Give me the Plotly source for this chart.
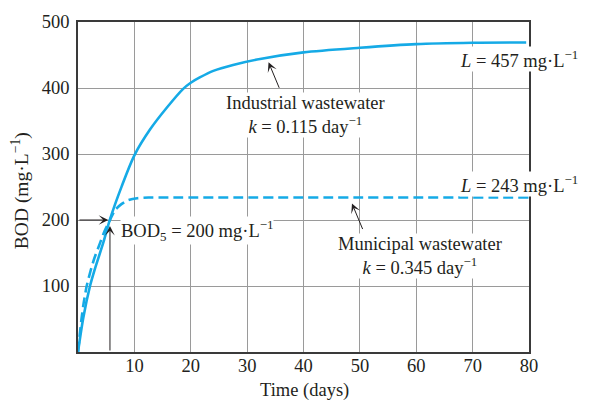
import plotly.graph_objects as go

# Industrial wastewater BOD curve (days, mg/L)
ind_days = [0, 0.94, 2.13, 3.0, 4.5, 5.67, 7.75, 10, 12.77, 15.74, 18.7, 20, 21.6, 24, 27.5, 32.3, 40, 50, 60, 70, 79.5]
ind_bod = [0, 52, 100, 126, 166, 201, 251, 298, 337, 370, 399, 408, 416, 426, 435, 444, 454, 461, 466.5, 468.5, 469]

# Municipal wastewater BOD curve (days, mg/L)
muni_days = [0, 0.3, 0.65, 1.0, 1.54, 2.2, 2.9, 3.9, 4.7, 5.67, 6.56, 7.7, 8.9, 10.5, 12.5, 16, 80]
muni_bod = [0, 25, 52, 74, 100, 122, 142, 165, 183, 200, 215, 224, 230, 233, 234, 234, 234]

# BOD5 reading
bod5_day = 5.67
bod5_value = 200

x_ticks = [10, 20, 30, 40, 50, 60, 70, 80]
y_ticks = [100, 200, 300, 400, 500]

FONT = "Liberation Serif, Times New Roman, serif"
FS = 18.5
INK = "#231f20"
CYAN = "#15aae6"

fig = go.Figure()
fig.add_trace(go.Scatter(x=ind_days, y=ind_bod, mode="lines",
                         line=dict(color=CYAN, width=2.6, shape="spline", smoothing=0.8),
                         showlegend=False, hoverinfo="skip"))
fig.add_trace(go.Scatter(x=muni_days, y=muni_bod, mode="lines",
                         line=dict(color=CYAN, width=2.6, dash="10px,5px", shape="spline", smoothing=0.6),
                         showlegend=False, hoverinfo="skip"))

ann = []
# BOD5 guide arrows
ann.append(dict(x=bod5_day - 0.3, y=bod5_value, ax=0, ay=bod5_value, xref="x", yref="y",
                axref="x", ayref="y", text="", showarrow=True, arrowhead=3,
                arrowsize=1.6, arrowwidth=1, arrowcolor=INK))
ann.append(dict(x=bod5_day, y=bod5_value - 9, ax=bod5_day, ay=0, xref="x", yref="y",
                axref="x", ayref="y", text="", showarrow=True, arrowhead=3,
                arrowsize=1.6, arrowwidth=1, arrowcolor=INK))
ann.append(dict(x=7.4, y=184, xref="x", yref="y", xanchor="left", yanchor="middle",
                text="BOD<sub>5</sub> = 200 mg·L<sup>−1</sup>", showarrow=False,
                bgcolor="white", borderpad=0))

# Curve labels with pointer arrows
ann.append(dict(x=33.8, y=439, ax=35.8, ay=398, xref="x", yref="y", axref="x", ayref="y",
                text="", showarrow=True, arrowhead=3, arrowsize=1.6, arrowwidth=1,
                arrowcolor=INK))
ann.append(dict(x=40.3, y=359, xref="x", yref="y", xanchor="center", yanchor="middle",
                text="Industrial wastewater<br><i>k</i> = 0.115 day<sup>−1</sup>",
                showarrow=False, bgcolor="white", borderpad=0))
ann.append(dict(x=48.6, y=225, ax=50.6, ay=184, xref="x", yref="y", axref="x", ayref="y",
                text="", showarrow=True, arrowhead=3, arrowsize=1.6, arrowwidth=1,
                arrowcolor=INK))
ann.append(dict(x=60.7, y=145, xref="x", yref="y", xanchor="center", yanchor="middle",
                text="Municipal wastewater<br><i>k</i> = 0.345 day<sup>−1</sup>",
                showarrow=False, bgcolor="white", borderpad=0))

# Ultimate BOD labels
ann.append(dict(x=67.6, y=444, xref="x", yref="y", xanchor="left", yanchor="middle",
                text="<i>L</i> = 457 mg·L<sup>−1</sup>", showarrow=False,
                bgcolor="white", borderpad=0))
ann.append(dict(x=67.6, y=255, xref="x", yref="y", xanchor="left", yanchor="middle",
                text="<i>L</i> = 243 mg·L<sup>−1</sup>", showarrow=False,
                bgcolor="white", borderpad=0))

# Axis titles (placed in pixels, converted to paper coords below)
ann.append(dict(x=20, y=188, xref="paper", yref="paper", text="BOD (mg·L<sup>−1</sup>)",
                textangle=-90, showarrow=False, xanchor="center", yanchor="middle",
                font=dict(size=19.5)))
ann.append(dict(x=304, y=391, xref="paper", yref="paper", text="Time (days)",
                showarrow=False, xanchor="center", yanchor="middle"))

L, R, T, B, W, H = 78, 60, 15.5, 51, 589, 403
pw, ph = W - L - R, H - T - B
for a in ann[-2:]:
    a["x"] = (a["x"] - L) / pw
    a["y"] = (H - B - a["y"]) / ph

fig.update_layout(
    width=W, height=H,
    margin=dict(l=L, r=R, t=T, b=B, pad=0),
    paper_bgcolor="white", plot_bgcolor="white",
    font=dict(family=FONT, size=FS, color=INK),
    annotations=ann,
    showlegend=False,
)
axis_style = dict(showgrid=True, gridcolor="#9a9a9a", gridwidth=1, showline=True, mirror=True,
                  linecolor="#3a3a3a", linewidth=1.5, zeroline=False, ticks="",
                  tickfont=dict(family=FONT, size=FS, color=INK))
fig.update_xaxes(range=[0, 80], tickvals=x_ticks, ticklabelstandoff=-4, **axis_style)
fig.update_yaxes(range=[0, 500], tickvals=y_ticks, ticklabelstandoff=3, **axis_style)

fig.write_html("out.html")
